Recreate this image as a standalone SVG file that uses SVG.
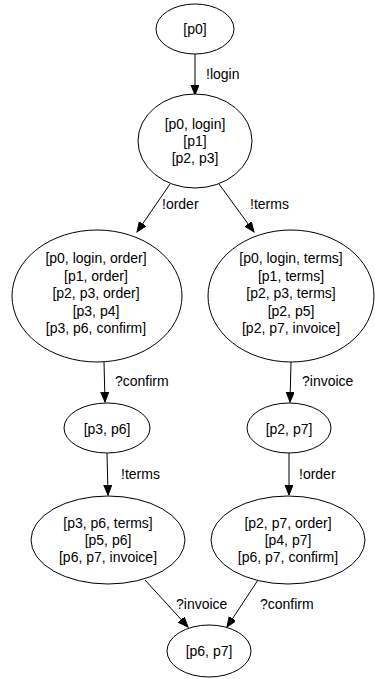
<svg xmlns="http://www.w3.org/2000/svg" width="375" height="679" viewBox="0 0 375 679">
<style>
.node ellipse{fill:#fff;stroke:#000;stroke-width:1}
text{font-family:"Liberation Sans",Arial,sans-serif;font-size:14px;fill:#000}
.node text{text-anchor:middle}
.edge path{fill:none;stroke:#000;stroke-width:1;marker-end:url(#ah)}
</style>
<defs>
<marker id="ah" markerUnits="userSpaceOnUse" markerWidth="11" markerHeight="9" refX="10" refY="4" orient="auto">
<path d="M0,0 L10,4 L0,8 z" fill="#000" stroke="#000" stroke-width="1"/>
</marker>
</defs>
<rect width="375" height="679" fill="#fff"/>
<g id="edges">
<g class="edge"><path d="M195,54 L195,95"/><text x="206" y="79">!login</text></g>
<g class="edge"><path d="M170,184 L137,232"/><text x="162" y="209">!order</text></g>
<g class="edge"><path d="M219,184 L254,232"/><text x="250" y="209">!terms</text></g>
<g class="edge"><path d="M104,362 L105,402"/><text x="115" y="386">?confirm</text></g>
<g class="edge"><path d="M291,362 L290,402"/><text x="302" y="386">?invoice</text></g>
<g class="edge"><path d="M107,453 L108,495"/><text x="121" y="479">!terms</text></g>
<g class="edge"><path d="M289,453 L289,495"/><text x="299" y="479">!order</text></g>
<g class="edge"><path d="M145,580 L188,627"/><text x="176" y="609">?invoice</text></g>
<g class="edge"><path d="M258,580 L227,627"/><text x="260" y="609">?confirm</text></g>
</g>
<g id="n0" class="node"><ellipse cx="195" cy="29" rx="39" ry="25"/><text x="195" y="34">[p0]</text></g>
<g id="n1" class="node"><ellipse cx="195" cy="141" rx="57" ry="47"/>
<text x="195" y="129">[p0, login]</text><text x="195" y="146">[p1]</text><text x="195" y="163">[p2, p3]</text></g>
<g id="n2" class="node"><ellipse cx="97" cy="296" rx="85" ry="66"/>
<text x="96" y="263">[p0, login, order]</text><text x="96" y="280.5">[p1, order]</text><text x="96" y="298">[p2, p3, order]</text><text x="96" y="315.5">[p3, p4]</text><text x="96" y="333">[p3, p6, confirm]</text></g>
<g id="n3" class="node"><ellipse cx="291" cy="296" rx="83" ry="66"/>
<text x="291" y="263">[p0, login, terms]</text><text x="291" y="280.5">[p1, terms]</text><text x="291" y="298">[p2, p3, terms]</text><text x="291" y="315.5">[p2, p5]</text><text x="291" y="333">[p2, p7, invoice]</text></g>
<g id="n4" class="node"><ellipse cx="107" cy="428" rx="43" ry="25"/><text x="107" y="434">[p3, p6]</text></g>
<g id="n5" class="node"><ellipse cx="289" cy="428" rx="42" ry="25"/><text x="289" y="434">[p2, p7]</text></g>
<g id="n6" class="node"><ellipse cx="108" cy="540" rx="77" ry="44"/>
<text x="108" y="528">[p3, p6, terms]</text><text x="108" y="545">[p5, p6]</text><text x="108" y="562">[p6, p7, invoice]</text></g>
<g id="n7" class="node"><ellipse cx="288" cy="540" rx="77" ry="44"/>
<text x="288" y="528">[p2, p7, order]</text><text x="288" y="545">[p4, p7]</text><text x="288" y="562">[p6, p7, confirm]</text></g>
<g id="n8" class="node"><ellipse cx="209" cy="651" rx="42" ry="26"/><text x="209" y="656">[p6, p7]</text></g>
</svg>
